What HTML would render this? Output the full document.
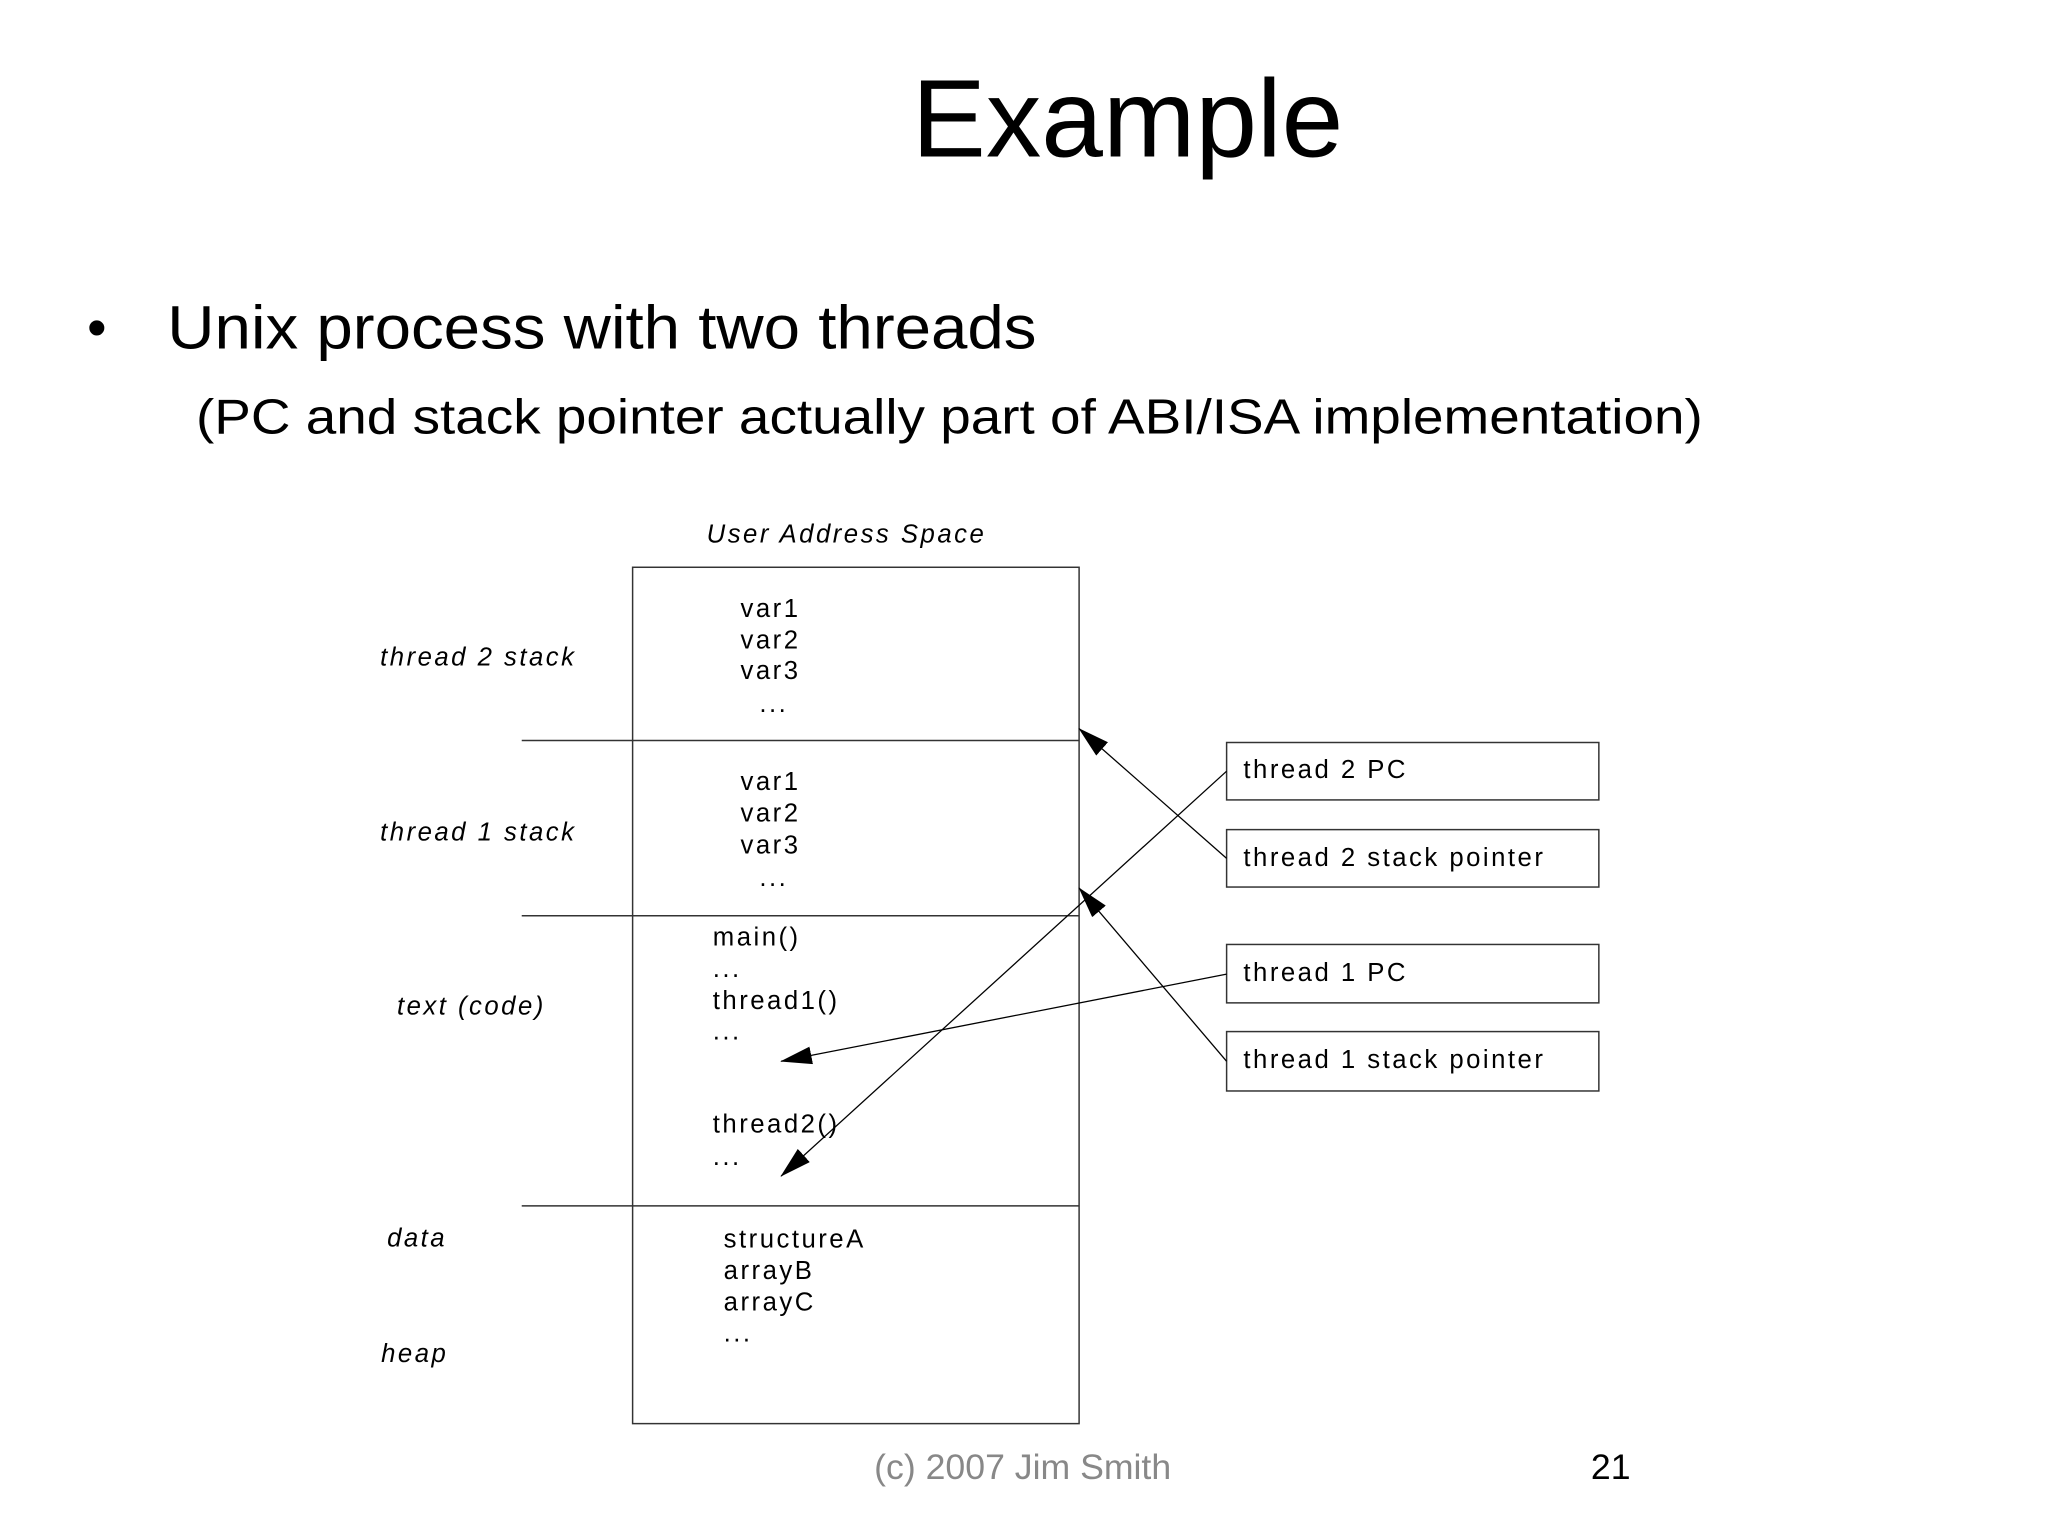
<!DOCTYPE html>
<html><head><meta charset="utf-8"><style>
html,body{margin:0;padding:0;background:#fff}
svg{display:block}
</style></head><body>
<svg width="2048" height="1536" viewBox="0 0 2048 1536" xmlns="http://www.w3.org/2000/svg" font-family="Liberation Sans, sans-serif">
<defs>
<marker id="ah" markerWidth="32" markerHeight="18" refX="31" refY="9" orient="auto" markerUnits="userSpaceOnUse">
<path d="M0,0 L32,9 L0,18 Z" fill="#000"/>
</marker>
</defs>
<g transform="scale(0.99)">
<text x="1139" y="158" font-size="112" text-anchor="middle" fill="#000">Example</text>
<text x="88" y="350" font-size="56" fill="#000">•</text>
<text x="169" y="352" font-size="62" fill="#000" textLength="878" lengthAdjust="spacingAndGlyphs">Unix process with two threads</text>
<text x="198" y="438" font-size="50" fill="#000" textLength="1522" lengthAdjust="spacingAndGlyphs">(PC and stack pointer actually part of ABI/ISA implementation)</text>

<g font-size="26" fill="#000" letter-spacing="2.5">
<text x="855" y="548" font-style="italic" text-anchor="middle">User Address Space</text>
<text x="384" y="672" font-style="italic">thread 2 stack</text>
<text x="384" y="849" font-style="italic">thread 1 stack</text>
<text x="401" y="1025" font-style="italic">text (code)</text>
<text x="391" y="1259" font-style="italic">data</text>
<text x="385" y="1376" font-style="italic">heap</text>

<text x="748" y="623">var1</text>
<text x="748" y="655">var2</text>
<text x="748" y="686">var3</text>
<text x="767" y="719">...</text>
<text x="748" y="798">var1</text>
<text x="748" y="830">var2</text>
<text x="748" y="862">var3</text>
<text x="767" y="895">...</text>
<text x="720" y="955">main()</text>
<text x="720" y="987">...</text>
<text x="720" y="1019">thread1()</text>
<text x="720" y="1050">...</text>
<text x="720" y="1144">thread2()</text>
<text x="720" y="1177">...</text>
<text x="731" y="1260">structureA</text>
<text x="731" y="1292">arrayB</text>
<text x="731" y="1324">arrayC</text>
<text x="731" y="1355">...</text>

<text x="1256" y="786">thread 2 PC</text>
<text x="1256" y="875">thread 2 stack pointer</text>
<text x="1256" y="991">thread 1 PC</text>
<text x="1256" y="1079">thread 1 stack pointer</text>
</g>

<g stroke="#333" stroke-width="1.5" fill="none">
<rect x="639" y="573" width="451" height="865"/>
<line x1="527" y1="748" x2="1090" y2="748"/>
<line x1="527" y1="925" x2="1090" y2="925"/>
<line x1="527" y1="1218" x2="1090" y2="1218"/>
<rect x="1239" y="750" width="376" height="58"/>
<rect x="1239" y="838" width="376" height="58"/>
<rect x="1239" y="954" width="376" height="59"/>
<rect x="1239" y="1042" width="376" height="60"/>
</g>
<g stroke="#000" stroke-width="1.3" marker-end="url(#ah)">
<line x1="1239" y1="867" x2="1090" y2="736"/>
<line x1="1239" y1="779" x2="789" y2="1188"/>
<line x1="1239" y1="984" x2="789" y2="1072"/>
<line x1="1239" y1="1072" x2="1090" y2="897"/>
</g>

<text x="1033" y="1494" font-size="36" fill="#888" text-anchor="middle">(c) 2007 Jim Smith</text>
<text x="1607" y="1494" font-size="36" fill="#000">21</text>
</g>
</svg>
</body></html>
